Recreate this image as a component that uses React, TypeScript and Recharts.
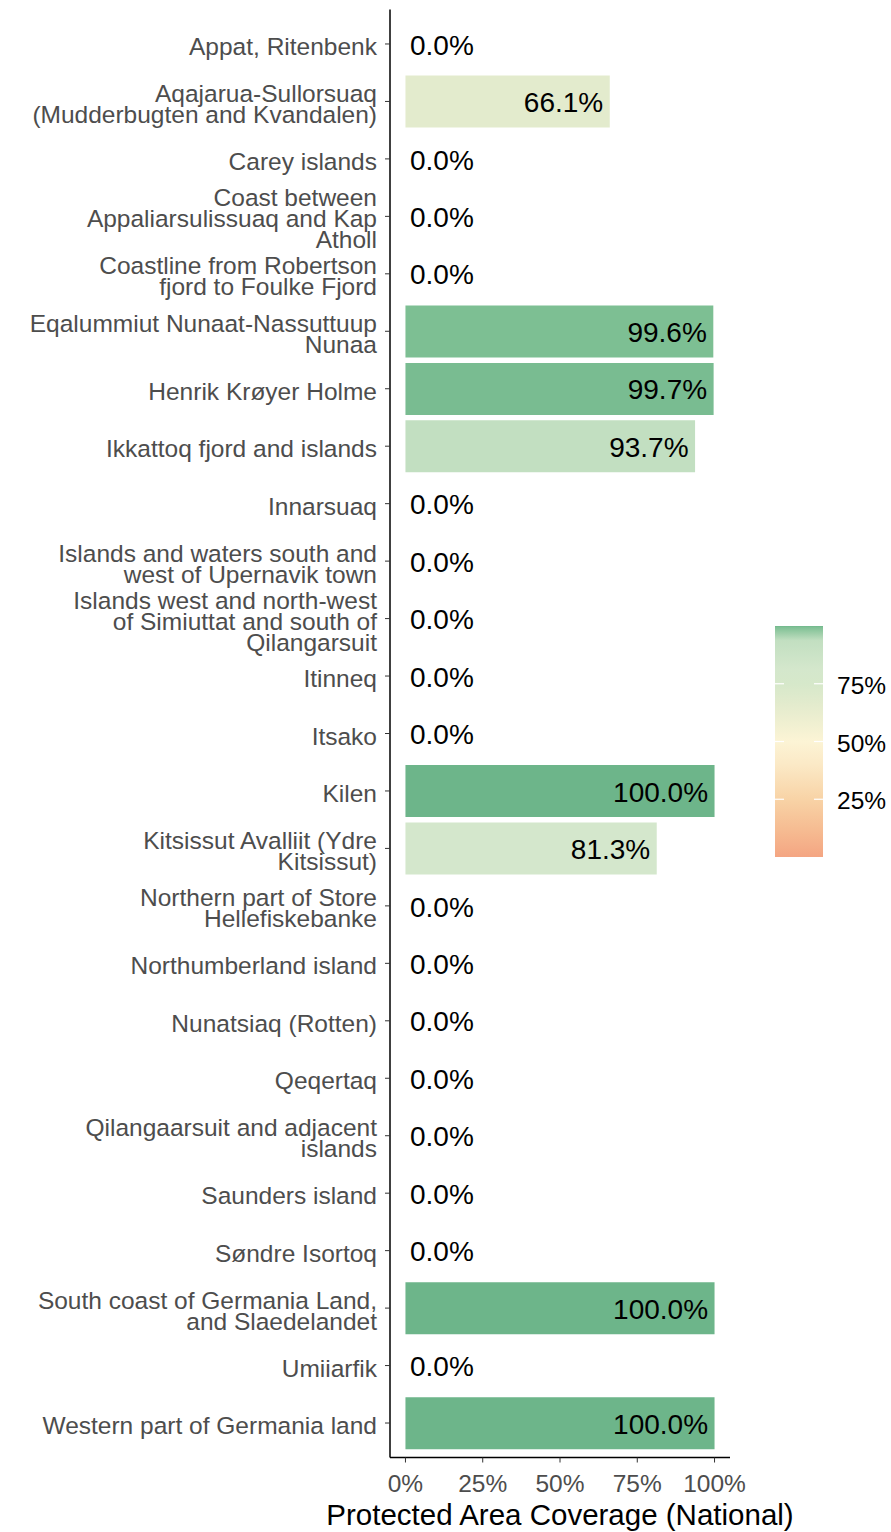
import React from "react";
import {
  Bar,
  BarChart,
  Cell,
  Customized,
  LabelList,
  XAxis,
  YAxis,
} from "recharts";

const regions = [
  "Appat, Ritenbenk",
  "Aqajarua-Sullorsuaq\n(Mudderbugten and Kvandalen)",
  "Carey islands",
  "Coast between\nAppaliarsulissuaq and Kap\nAtholl",
  "Coastline from Robertson\nfjord to Foulke Fjord",
  "Eqalummiut Nunaat-Nassuttuup\nNunaa",
  "Henrik Krøyer Holme",
  "Ikkattoq fjord and islands",
  "Innarsuaq",
  "Islands and waters south and\nwest of Upernavik town",
  "Islands west and north-west\nof Simiuttat and south of\nQilangarsuit",
  "Itinneq",
  "Itsako",
  "Kilen",
  "Kitsissut Avalliit (Ydre\nKitsissut)",
  "Northern part of Store\nHellefiskebanke",
  "Northumberland island",
  "Nunatsiaq (Rotten)",
  "Qeqertaq",
  "Qilangaarsuit and adjacent\nislands",
  "Saunders island",
  "Søndre Isortoq",
  "South coast of Germania Land,\nand Slaedelandet",
  "Umiiarfik",
  "Western part of Germania land",
];

const coverage = [
  0, 66.1, 0, 0, 0, 99.6, 99.7, 93.7, 0, 0, 0, 0, 0, 100, 81.3, 0, 0, 0, 0, 0, 0,
  0, 100, 0, 100,
];

const xTicks = [0, 25, 50, 75, 100];
const legendTicks = [25, 50, 75];
const xTitle = "Protected Area Coverage (National)";

const colourStops: [number, string][] = [
  [0, "#f4a582"],
  [12, "#f6bc92"],
  [25, "#f8d3a6"],
  [40, "#fbe9c6"],
  [50, "#fcf4d5"],
  [66.1, "#e3ebcd"],
  [75, "#d6e8ca"],
  [81.3, "#d4e7cc"],
  [93.7, "#c2dfc1"],
  [99.6, "#7dbf93"],
  [100, "#6db58a"],
];

const FONT = "'Liberation Sans', Arial, sans-serif";

function hexToRgb(h: string) {
  const n = parseInt(h.slice(1), 16);
  return [(n >> 16) & 255, (n >> 8) & 255, n & 255];
}

function colourFor(v: number) {
  for (let i = 1; i < colourStops.length; i++) {
    const [v1, c1] = colourStops[i];
    const [v0, c0] = colourStops[i - 1];
    if (v <= v1) {
      const t = v1 === v0 ? 0 : (v - v0) / (v1 - v0);
      const a = hexToRgb(c0);
      const b = hexToRgb(c1);
      const m = a.map((x, k) => Math.round(x + (b[k] - x) * t));
      return `rgb(${m[0]},${m[1]},${m[2]})`;
    }
  }
  return colourStops[colourStops.length - 1][1];
}

const data = regions.map((region, i) => ({ region, coverage: coverage[i] }));

const RegionTick = (props: any) => {
  const { x, y, payload } = props;
  const lines = String(payload.value).split("\n");
  const lh = 21;
  return (
    <text
      x={x}
      y={y}
      textAnchor="end"
      fill="#4d4d4d"
      fontSize={24.5}
      fontFamily={FONT}
    >
      {lines.map((ln, i) => (
        <tspan key={i} x={x} y={y + (i - (lines.length - 1) / 2) * lh + 11}>
          {ln}
        </tspan>
      ))}
    </text>
  );
};

const ValueLabel = (props: any) => {
  const { x, y, width, height, value } = props;
  const v = Number(value);
  const cy = y + height / 2 + 10.5;
  const tx = v > 0 ? x + width - 6.5 : x + 4.5;
  return (
    <text
      x={tx}
      y={cy}
      textAnchor={v > 0 ? "end" : "start"}
      fill="#000"
      fontSize={28}
      fontFamily={FONT}
    >
      {v.toFixed(1) + "%"}
    </text>
  );
};

const ColorBar = () => {
  const left = 775;
  const right = 823;
  const top = 626;
  const bottom = 857;
  const yOf = (v: number) => bottom - (v / 100) * (bottom - top);
  return (
    <g>
      <defs>
        <linearGradient id="covGrad" x1="0" y1="1" x2="0" y2="0">
          {colourStops.map(([v, c]) => (
            <stop key={v} offset={v / 100} stopColor={c} />
          ))}
        </linearGradient>
      </defs>
      <rect
        x={left}
        y={top}
        width={right - left}
        height={bottom - top}
        fill="url(#covGrad)"
      />
      {legendTicks.map((t) => (
        <g key={t}>
          <line x1={left} x2={left + 9} y1={yOf(t)} y2={yOf(t)} stroke="#fff" strokeWidth={1.2} />
          <line x1={right - 9} x2={right} y1={yOf(t)} y2={yOf(t)} stroke="#fff" strokeWidth={1.2} />
          <text
            x={837}
            y={yOf(t) + 10}
            fontSize={24.5}
            fontFamily={FONT}
            fill="#000"
          >
            {t + "%"}
          </text>
        </g>
      ))}
    </g>
  );
};

export default function App() {
  return (
    <div style={{ position: "absolute", left: 0, top: 0, background: "#fff" }}>
      <BarChart
        layout="vertical"
        data={data}
        width={891}
        height={1532}
        margin={{ top: 9.5, right: 161, bottom: 0, left: 0 }}
        barCategoryGap="5%"
      >
        <XAxis
          type="number"
          domain={[-5, 105]}
          allowDataOverflow
          ticks={xTicks}
          tickFormatter={(v) => `${v}%`}
          height={74.5}
          tickSize={5}
          tickMargin={12}
          axisLine={{ stroke: "#000", strokeWidth: 1.5 }}
          tickLine={{ stroke: "#333" }}
          tick={{ fill: "#4d4d4d", fontSize: 24.5, fontFamily: FONT }}
          label={{
            value: xTitle,
            position: "insideBottom",
            offset: 7,
            fill: "#000",
            fontSize: 29.5,
            fontFamily: FONT,
          }}
        />
        <YAxis
          type="category"
          dataKey="region"
          width={390}
          interval={0}
          padding={{ top: 5.75, bottom: 5.75 }}
          tickSize={5}
          tickMargin={8}
          axisLine={{ stroke: "#000", strokeWidth: 1.5 }}
          tickLine={{ stroke: "#333" }}
          tick={<RegionTick />}
        />
        <Bar dataKey="coverage" minPointSize={0.01} isAnimationActive={false}>
          {data.map((d, i) => (
            <Cell key={i} fill={d.coverage > 0 ? colourFor(d.coverage) : "none"} />
          ))}
          <LabelList dataKey="coverage" content={<ValueLabel />} />
        </Bar>
        <Customized component={<ColorBar />} />
      </BarChart>
    </div>
  );
}
